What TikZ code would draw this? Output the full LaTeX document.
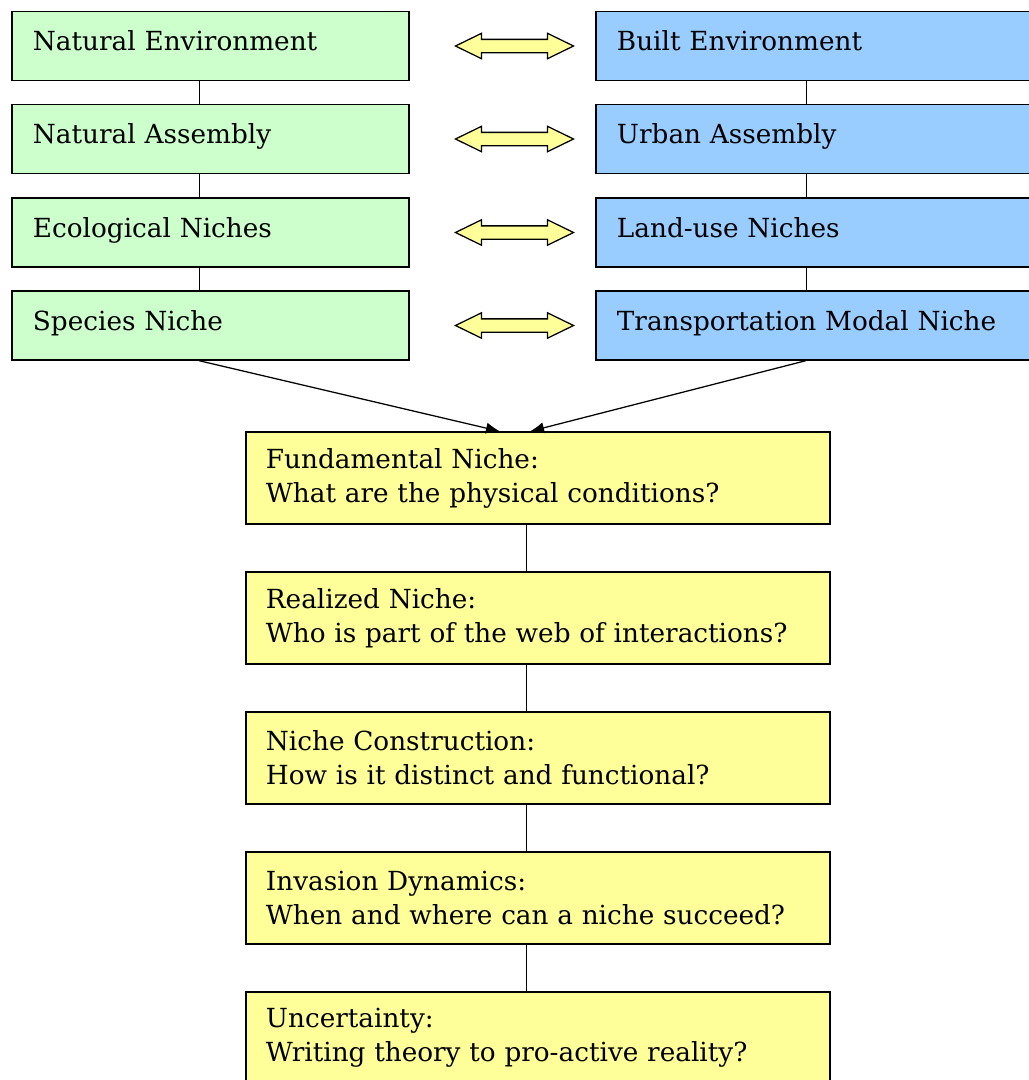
\documentclass[tikz,border=0pt]{standalone}
\usepackage{fontspec}
\setmainfont{DejaVu Serif}
\usepackage{xcolor}
\usepackage{tikz}
\usetikzlibrary{arrows.meta,positioning,shapes.arrows}

\definecolor{natgreen}{HTML}{CCFFCC}
\definecolor{urbblue}{HTML}{99CCFF}
\definecolor{nicheyellow}{HTML}{FFFF99}

\begin{document}
\begin{tikzpicture}[x=0.025cm, y=-0.025cm,
  every node/.style={font=\fontsize{18.7}{24.2}\selectfont},
  natbox/.style={draw,line width=0.9pt,fill=natgreen,minimum width=9.925cm,minimum height=1.725cm,
    inner xsep=0.525cm,text width=8.875cm,align=left,text height=0.5cm,text depth=0.275cm},
  urbbox/.style={draw,line width=0.9pt,fill=urbblue,minimum width=11cm,minimum height=1.725cm,
    inner xsep=0.525cm,text width=9.95cm,align=left,text height=0.5cm,text depth=0.275cm},
  qbox/.style={draw,line width=0.9pt,fill=nicheyellow,minimum width=14.6cm,minimum height=2.3cm,
    inner xsep=0.5cm,text width=13.6cm,align=left},
  both/.style={draw,line width=0.9pt,fill=nicheyellow,double arrow,double arrow tip angle=52,
    double arrow head extend=0.15cm,minimum width=0.62cm,minimum height=2.95cm,
    inner xsep=0pt,inner ysep=0.15cm}]
  \useasboundingbox (0,0) rectangle (1028,1080);

  \node[natbox] (N1) at (210.5,46) {Natural Environment};
  \node[natbox] (N2) at (210.5,139) {Natural Assembly};
  \node[natbox] (N3) at (210.5,232.5) {Ecological Niches};
  \node[natbox] (N4) at (210.5,325.5) {Species Niche};

  \node[urbbox] (U1) at (816,46) {Built Environment};
  \node[urbbox] (U2) at (816,139) {Urban Assembly};
  \node[urbbox] (U3) at (816,232.5) {Land-use Niches};
  \node[urbbox] (U4) at (816,325.5) {Transportation Modal Niche};

  \node[both] (D1) at (514.5,46) {};
  \node[both] (D2) at (514.5,139) {};
  \node[both] (D3) at (514.5,232.5) {};
  \node[both] (D4) at (514.5,325.5) {};

  \node[qbox] (Q1) at (538,478) {Fundamental Niche:\\What are the physical conditions?};
  \node[qbox] (Q2) at (538,618) {Realized Niche:\\Who is part of the web of interactions?};
  \node[qbox] (Q3) at (538,758) {Niche Construction:\\How is it distinct and functional?};
  \node[qbox] (Q4) at (538,898) {Invasion Dynamics:\\When and where can a niche succeed?};
  \node[qbox] (Q5) at (538,1038) {Uncertainty:\\Writing theory to pro-active reality?};

  \draw ([xshift=-0.29cm]N1.south) -- ([xshift=-0.29cm]N2.north);
  \draw ([xshift=-0.29cm]N2.south) -- ([xshift=-0.29cm]N3.north);
  \draw ([xshift=-0.29cm]N3.south) -- ([xshift=-0.29cm]N4.north);
  \draw ([xshift=-0.25cm]U1.south) -- ([xshift=-0.25cm]U2.north);
  \draw ([xshift=-0.25cm]U2.south) -- ([xshift=-0.25cm]U3.north);
  \draw ([xshift=-0.25cm]U3.south) -- ([xshift=-0.25cm]U4.north);

  \draw[-{Latex[length=10pt,width=8pt]},line width=0.9pt] ([xshift=-0.29cm]N4.south) -- ([xshift=-0.95cm]Q1.north);
  \draw[-{Latex[length=10pt,width=8pt]},line width=0.9pt] ([xshift=-0.25cm]U4.south) -- ([xshift=-0.2cm]Q1.north);

  \draw ([xshift=-0.3cm]Q1.south) -- ([xshift=-0.3cm]Q2.north);
  \draw ([xshift=-0.3cm]Q2.south) -- ([xshift=-0.3cm]Q3.north);
  \draw ([xshift=-0.3cm]Q3.south) -- ([xshift=-0.3cm]Q4.north);
  \draw ([xshift=-0.3cm]Q4.south) -- ([xshift=-0.3cm]Q5.north);
\end{tikzpicture}
\end{document}
